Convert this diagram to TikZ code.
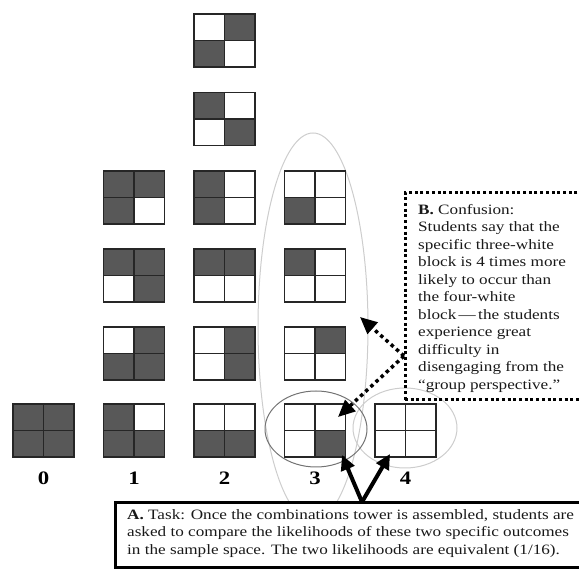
\documentclass[tikz,border=0pt]{standalone}
\usepackage{fontspec}
\setmainfont[FakeStretch=1.2]{Liberation Serif}
\usetikzlibrary{arrows.meta}
\definecolor{D}{RGB}{88,88,88}
\definecolor{W}{RGB}{255,255,255}
\definecolor{ringlight}{RGB}{205,205,205}
\definecolor{ringmid}{RGB}{115,115,115}
\newcommand\blk[7]{%
  \node[blockbox] (#1) at (#2+30.5,#3+26.5) {};
  \fill[#4] (#1.north west) rectangle (#1.center);
  \fill[#5] (#1.north) rectangle (#1.east);
  \fill[#6] (#1.west) rectangle (#1.south);
  \fill[#7] (#1.center) rectangle (#1.south east);
  \draw[gridln] (#1.north west) rectangle (#1.south east)
    (#1.north) -- (#1.south) (#1.west) -- (#1.east);
}
\begin{document}
\begin{tikzpicture}[x=1pt,y=-1pt,
  blockbox/.style={draw=none,fill=white,minimum width=61pt,minimum height=53pt,inner sep=0pt,outer sep=0pt},
  gridln/.style={draw=black!85,line width=1.1pt},
  collab/.style={font=\bfseries\fontsize{19}{19}\selectfont,inner sep=0pt},
  bodytext/.style={font=\fontsize{14.3}{17.5}\selectfont,align=left,inner sep=0pt,text=black!90},
  dotbox/.style={draw=black,line width=3pt,dash pattern=on 3pt off 2.7pt,minimum width=185pt,minimum height=207pt,inner sep=0pt,outer sep=0pt},
  solidbox/.style={draw=black,fill=white,line width=3pt,minimum width=475pt,minimum height=64pt,inner sep=0pt,outer sep=0pt},
  dotarrow/.style={line width=3.5pt,dash pattern=on 3.5pt off 3.5pt,-{Triangle[length=17pt,width=15pt]}},
  solidarrow/.style={line width=4pt,-{Triangle[length=15pt,width=14pt]}}
]
\useasboundingbox (0,0) rectangle (579,569);
\begin{scope}
\clip (0,0) rectangle (579,569);
% ellipses
\draw[ringlight,line width=1pt] (313,327) ellipse [x radius=55pt, y radius=194pt];
\draw[ringlight,line width=1pt] (405,428) ellipse [x radius=52pt, y radius=40pt];
% blocks
\blk{b06}{13}{404}{D}{D}{D}{D}
\blk{b13}{103.5}{171}{D}{D}{D}{W}
\blk{b14}{103.5}{249}{D}{D}{W}{D}
\blk{b15}{103.5}{327}{W}{D}{D}{D}
\blk{b16}{103.5}{404}{D}{W}{D}{D}
\blk{b21}{194}{14}{W}{D}{D}{W}
\blk{b22}{194}{92.5}{D}{W}{W}{D}
\blk{b23}{194}{171}{D}{W}{D}{W}
\blk{b24}{194}{249}{D}{D}{W}{W}
\blk{b25}{194}{327}{W}{D}{W}{D}
\blk{b26}{194}{404}{W}{W}{D}{D}
\blk{b33}{284.5}{171}{W}{W}{D}{W}
\blk{b34}{284.5}{249}{D}{W}{W}{W}
\blk{b35}{284.5}{327}{W}{D}{W}{W}
\blk{b36}{284.5}{404}{W}{W}{W}{D}
\blk{b46}{375}{404}{W}{W}{W}{W}
\draw[ringmid,line width=1pt] (316,429) ellipse [x radius=51pt, y radius=38pt];
% column labels
\node[collab] (l0) at (43.5,478) {0};
\node[collab] (l1) at (134,478) {1};
\node[collab] (l2) at (224.5,478) {2};
\node[collab] (l3) at (315,478) {3};
\node[collab] (l4) at (405.5,478) {4};
% B box
\node[dotbox,anchor=north west] (bbox) at (405,193) {};
\node[bodytext,anchor=north west] (btext) at (418,204) {\textbf{B.} Confusion:\\
Students say that the\\
specific three-white\\
block is 4 times more\\
likely to occur than\\
the four-white\\
block\,---\,the students\\
experience great\\
difficulty in\\
disengaging from the\\
``group perspective.''};
% A box
\node[solidbox,anchor=north west] (abox) at (115,503) {};
\node[bodytext,anchor=north west] (atext) at (127,509) {\textbf{A.} Task: Once the combinations tower is assembled, students are\\
asked to compare the likelihoods of these two specific outcomes\\
in the sample space. The two likelihoods are equivalent (1/16).};
% arrows
\coordinate (bstart) at (404,356);
\coordinate (btip1) at (360,317);
\coordinate (btip2) at (338,417);
\coordinate (abase) at (362,502);
\coordinate (atip1) at (342,455);
\coordinate (atip2) at (390,454);
\draw[dotarrow] (bstart) -- (btip1);
\draw[dotarrow] (bstart) -- (btip2);
\draw[solidarrow] (abase) -- (atip1);
\draw[solidarrow] (abase) -- (atip2);
\end{scope}
\end{tikzpicture}
\end{document}
